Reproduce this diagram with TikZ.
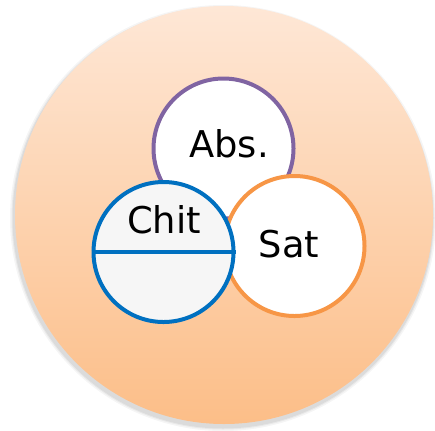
\documentclass[tikz,border=0pt]{standalone}
\usepackage{fontspec}
\setmainfont{DejaVu Sans}
\definecolor{peachtop}{RGB}{254,231,214}
\definecolor{peachbot}{RGB}{252,190,136}
\definecolor{absc}{RGB}{128,100,162}
\definecolor{chitc}{RGB}{0,112,192}
\definecolor{satc}{RGB}{247,150,70}
\definecolor{chitfill}{RGB}{246,246,246}
\tikzset{
  ring/.style={circle, minimum size=140bp, inner sep=0pt, line width=4bp, fill=white},
  lbl/.style={font=\fontsize{37}{40}\selectfont, anchor=base, inner sep=0pt}
}
\begin{document}
\begin{tikzpicture}[x=1bp,y=-1bp]
\useasboundingbox (0,0) rectangle (435,430);
% soft shadow
\foreach \r/\o in {213/0.04,211.5/0.05,210.5/0.06}{
  \fill[black,opacity=\o] (223,218) circle (\r);
}
\node[circle, minimum size=418bp, inner sep=0pt, top color=peachtop, bottom color=peachbot] (outer) at (224,215) {};
\node[ring, draw=absc] (abs) at (223.5,148.5) {};
\node[ring, draw=satc] (sat) at (294.5,246) {};
\node[ring, draw=chitc, fill=chitfill] (chit) at (163.5,252) {};
\draw[chitc, line width=4bp] (chit.west) -- (chit.east);
\node[lbl] (abslbl) at (229,157) {Abs.};
\node[lbl] (satlbl) at (289,257) {Sat};
\node[lbl] (chitlbl) at (164,233) {Chit};
\end{tikzpicture}
\end{document}
